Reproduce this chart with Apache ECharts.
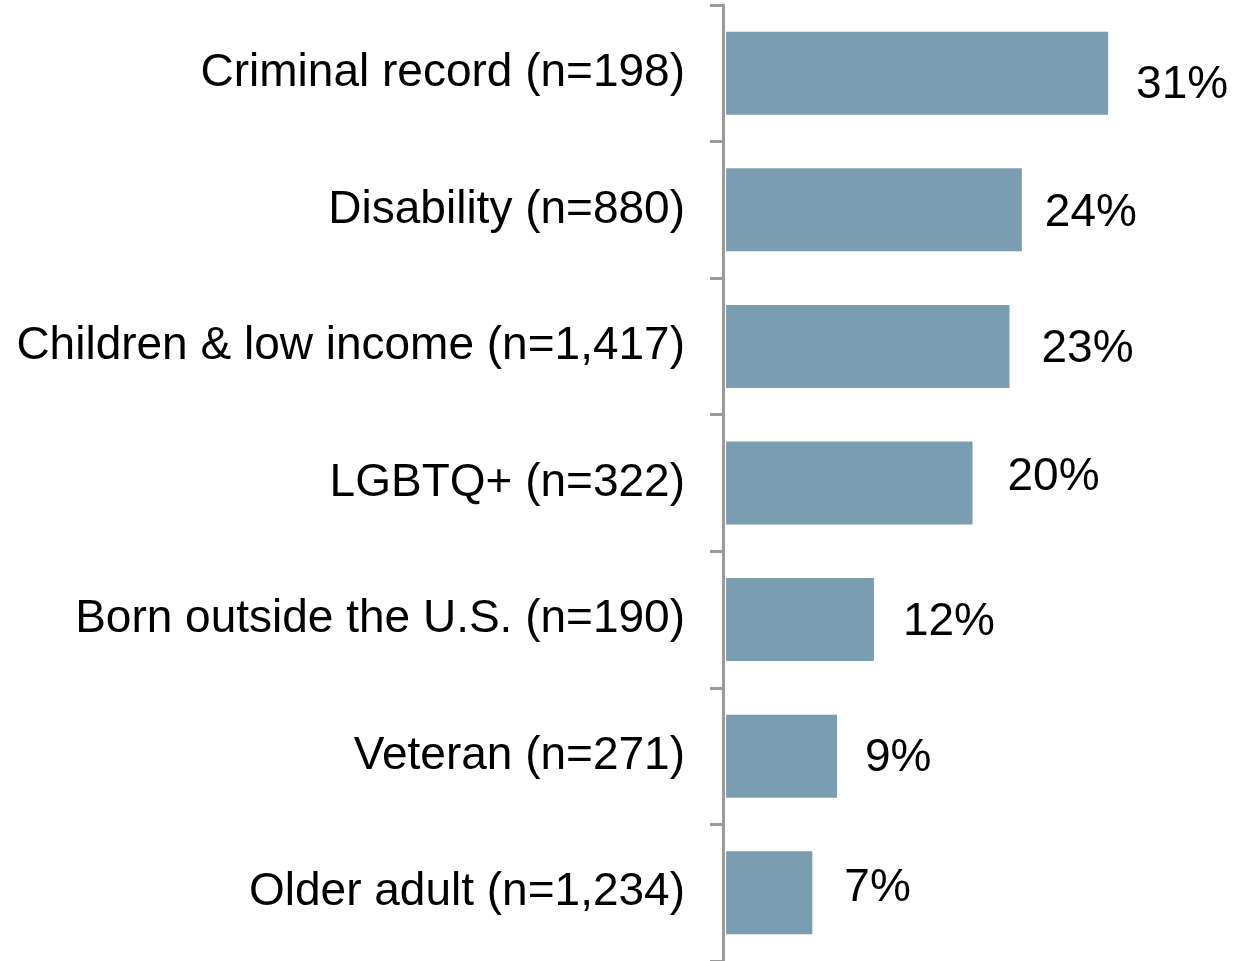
<!DOCTYPE html>
<html lang="en" style="height: 100%">
<head>
  <meta charset="utf-8">
</head>
<body style="height: 100%; margin: 0; background: #fff">
  <div id="container" style="width: 1253px; height: 961px"></div>

  <script type="text/javascript" src="https://cdn.jsdelivr.net/npm/echarts@6/dist/echarts.min.js"></script>
  <script type="text/javascript">
    var categories = [
      'Criminal record (n=198)',
      'Disability (n=880)',
      'Children & low income (n=1,417)',
      'LGBTQ+ (n=322)',
      'Born outside the U.S. (n=190)',
      'Veteran (n=271)',
      'Older adult (n=1,234)'
    ];
    var values = [31, 24, 23, 20, 12, 9, 7];

    // label nudges, as placed in the original
    var labelOffsets = [[0, 12], [-5, 3], [4, 3], [7, -6], [1, 3], [0, 2], [4, -4]];

    var dom = document.getElementById('container');
    var myChart = echarts.init(dom, null, { renderer: 'canvas' });

    var font = 'Liberation Sans, Arial, sans-serif';

    var option = {
      animation: false,
      grid: { left: 723, right: 34, top: 5, bottom: 0, containLabel: false },
      xAxis: {
        type: 'value',
        min: -0.25,
        max: 40,
        show: false
      },
      yAxis: {
        type: 'category',
        inverse: true,
        data: categories,
        axisLine: { show: true, onZero: false, lineStyle: { color: '#9a9a9a', width: 3 } },
        axisTick: { show: true, length: 13, lineStyle: { color: '#9a9a9a', width: 3 } },
        axisLabel: {
          margin: 38,
          fontSize: 46,
          color: '#000',
          fontFamily: font
        }
      },
      series: [
        {
          type: 'bar',
          barWidth: 83,
          itemStyle: { color: '#7b9db1' },
          data: values.map(function (v, i) {
            return {
              value: v,
              label: { offset: labelOffsets[i] }
            };
          }),
          label: {
            show: true,
            position: 'right',
            distance: 28,
            fontSize: 46,
            color: '#000',
            fontFamily: font,
            formatter: '{c}%'
          }
        }
      ]
    };

    myChart.setOption(option);
    window.addEventListener('resize', myChart.resize);
  </script>
</body>
</html>
